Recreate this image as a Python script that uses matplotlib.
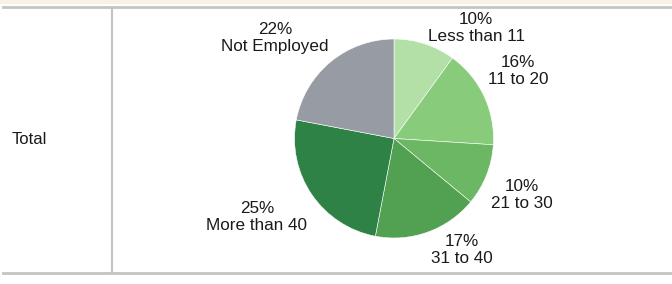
import matplotlib
matplotlib.use("Agg")
import matplotlib.pyplot as plt
from matplotlib.lines import Line2D
from matplotlib.patches import Rectangle

categories = ["Less than 11", "11 to 20", "21 to 30", "31 to 40", "More than 40", "Not Employed"]
values = [10, 16, 10, 17, 25, 22]
colors = ["#b3e0a6", "#88cb7a", "#6bb764", "#52a052", "#2f8246", "#979ba3"]
row_label = "Total"

# label centres in pixels (x, y from top)
label_pos = [(476, 28), (518, 71), (522, 195), (462, 250), (257, 217), (275, 38)]

W, H = 672, 284
fig = plt.figure(figsize=(W / 100, H / 100), dpi=100)
plt.rcParams['font.family'] = ['Liberation Sans', 'DejaVu Sans']

def fx(x):
    return x / W

def fy(y):
    return 1 - y / H

# top beige band
fig.patches.append(Rectangle((0, fy(3.5)), 1, 3.5 / H, transform=fig.transFigure,
                             facecolor="#f8f1e4", edgecolor="none"))
# table lines
fig.add_artist(Line2D([fx(3), 1], [fy(7), fy(7)], color="#c4c4c4", lw=2))
fig.add_artist(Line2D([fx(3), 1], [fy(272.5), fy(272.5)], color="#c4c4c4", lw=2))
fig.add_artist(Line2D([fx(112.5), fx(112.5)], [fy(7), fy(272.5)], color="#c4c4c4", lw=1.5))

fig.text(fx(12), fy(139), row_label, ha="left", va="center", fontsize=12, color="#1a1a1a")

cx, cy, r = 394, 138.5, 99.5
ax = fig.add_axes([fx(cx - r), fy(cy + r), 2 * r / W, 2 * r / H])
ax.pie(values, colors=colors, startangle=90, counterclock=False, radius=1,
       wedgeprops=dict(edgecolor="white", linewidth=0.4))
ax.set_xlim(-1, 1)
ax.set_ylim(-1, 1)
ax.set_aspect("auto")
ax.axis("off")

for cat, v, (x, y) in zip(categories, values, label_pos):
    fig.text(fx(x), fy(y), f"{v}%\n{cat}", ha="center", va="center", fontsize=12.3,
             color="#1a1a1a", linespacing=1.15)

fig.savefig("out.png", dpi=100)
